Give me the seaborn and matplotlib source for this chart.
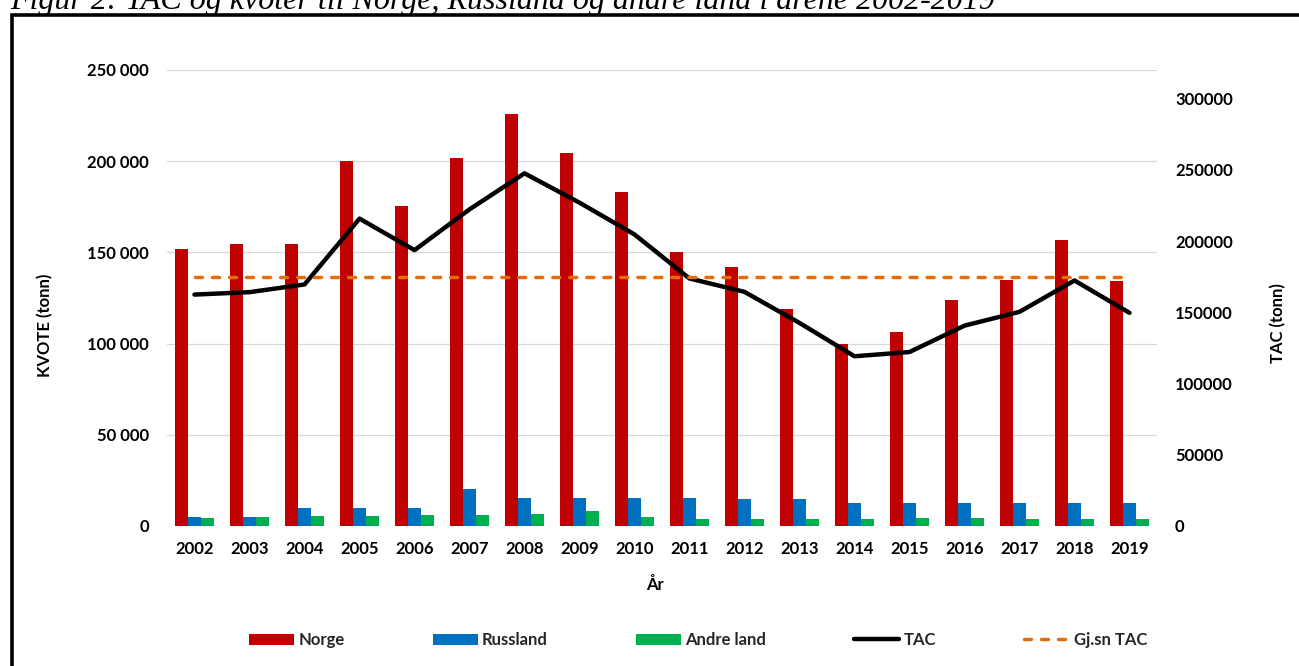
import numpy as np
import pandas as pd
import matplotlib
matplotlib.use("Agg")
import matplotlib.pyplot as plt
import seaborn as sns
from matplotlib.patches import Rectangle, Patch
from matplotlib.lines import Line2D
from matplotlib.ticker import FuncFormatter, MultipleLocator

# ---------------- data ----------------
years = ["2002", "2003", "2004", "2005", "2006", "2007", "2008", "2009", "2010",
         "2011", "2012", "2013", "2014", "2015", "2016", "2017", "2018", "2019"]
norge = [152000, 154500, 154500, 200000, 175500, 202000, 226000, 204500, 183000,
         150000, 142000, 119000, 100000, 106500, 124000, 135000, 157000, 134500]
russland = [5100, 5100, 10000, 10000, 10000, 20500, 15200, 15200, 15200,
            15200, 14600, 14600, 12400, 12400, 12400, 12400, 12400, 12400]
andre_land = [4600, 5100, 5500, 5500, 6000, 6000, 6600, 8200, 5100,
              3800, 3800, 3800, 3800, 4400, 4400, 3800, 3800, 3800]
tac = [162400, 164100, 169500, 215700, 193600, 222200, 247500, 226900, 204600,
       173700, 164300, 142500, 119100, 122100, 140600, 150300, 172300, 149600]
gjsn_tac_value = 174400
series_names = ["Norge", "Russland", "Andre land"]
line_names = ["TAC", "Gj.sn TAC"]
title = "Figur 2: TAC og kvoter til Norge, Russland og andre land i årene 2002-2019"

# ---------------- styling ----------------
sns.set_theme(style="white")
plt.rcParams["font.family"] = ["Lato", "DejaVu Sans"]
plt.rcParams["font.weight"] = "bold"
plt.rcParams["axes.labelweight"] = "bold"

bar_colors = ["#C00000", "#0070C0", "#00B050"]
tac_color = "#000000"
avg_color = "#E46C0A"
grid_color = "#D9D9D9"

W, H = 1299, 666
fig = plt.figure(figsize=(W / 100, H / 100), dpi=100)
fig.patch.set_facecolor("white")

L, R, T, B = 167, 1157, 70, 526
ax = fig.add_axes([L / W, (H - B) / H, (R - L) / W, (B - T) / H])

df = pd.DataFrame({
    "År": years * 3,
    "Land": [series_names[0]] * len(years) + [series_names[1]] * len(years) + [series_names[2]] * len(years),
    "Kvote": norge + russland + andre_land,
})

sns.barplot(data=df, x="År", y="Kvote", hue="Land", hue_order=series_names,
            palette=bar_colors, saturation=1, width=0.72, gap=0, linewidth=0,
            legend=False, ax=ax, errorbar=None)

ax.set_ylim(0, 250000)
ax.yaxis.set_major_locator(MultipleLocator(50000))
ax.yaxis.set_major_formatter(FuncFormatter(lambda v, p: f"{int(v):,}".replace(",", " ")))
ax.grid(axis="y", color=grid_color, linewidth=0.9)
ax.grid(axis="x", visible=False)
ax.set_axisbelow(True)
for s in ax.spines.values():
    s.set_visible(False)

ax2 = ax.twinx()
pos = np.arange(len(years))
sns.lineplot(x=pos, y=tac, ax=ax2, color=tac_color, linewidth=3.2)
sns.lineplot(x=pos, y=[gjsn_tac_value] * len(years), ax=ax2, color=avg_color,
             linewidth=2.5, linestyle=(0, (2.0, 2.9)), dash_capstyle="round")
ax2.set_ylim(0, 320000)
ax2.yaxis.set_major_locator(MultipleLocator(50000))
ax2.yaxis.set_major_formatter(FuncFormatter(lambda v, p: f"{int(v)}"))
ax2.grid(False)
for s in ax2.spines.values():
    s.set_visible(False)

ax.set_xlim(-0.5, len(years) - 0.5)

ax.tick_params(axis="x", length=0, labelsize=12, pad=10.5, colors="black")
ax.tick_params(axis="y", length=0, labelsize=12, pad=13, colors="black")
ax2.tick_params(axis="y", length=0, labelsize=12, pad=13, colors="black")

ax.set_xlabel("År", fontsize=12, fontweight="bold", color="black")
ax.set_ylabel("KVOTE (tonn)", fontsize=12, fontweight="bold", color="black")
ax2.set_ylabel("TAC (tonn)", fontsize=12, fontweight="bold", color="black")
ax.xaxis.set_label_coords((655 - L) / (R - L), (B - 585) / (B - T))
ax.xaxis.label.set_va("center")
ax.yaxis.set_label_coords((45 - L) / (R - L), (B - 325) / (B - T))
ax.yaxis.label.set_va("center")
ax2.yaxis.set_label_coords((1278 - L) / (R - L), (B - 323) / (B - T))
ax2.yaxis.label.set_va("center")

# legend
handles = [Patch(facecolor=c, edgecolor="none", label=n) for c, n in zip(bar_colors, series_names)]
handles.append(Line2D([0], [0], color=tac_color, linewidth=3.2, label=line_names[0]))
handles.append(Line2D([0], [0], color=avg_color, linewidth=2.5, linestyle=(0, (2.0, 2.9)),
                      dash_capstyle="round", label=line_names[1]))
fig.legend(handles=handles, loc="center", bbox_to_anchor=(698 / W, 1 - 640 / H), ncol=5,
           frameon=False, prop={"size": 12, "weight": "bold"}, handlelength=2.7,
           handleheight=0.66, handletextpad=0.25, columnspacing=5.3, borderaxespad=0)

# frame around the chart (partly outside the picture)
fig.add_artist(Rectangle((12 / W, -0.2), 2.0, (H - 15) / H + 0.2, transform=fig.transFigure,
                         fill=False, edgecolor="black", linewidth=2.6, clip_on=False))

# caption text cut at the top of the picture
t = fig.text(10 / W, 1 - 9 / H, title, fontfamily=["Liberation Serif", "DejaVu Serif"],
             fontstyle="italic", fontweight="normal", fontsize=20, va="baseline", ha="left",
             color="black")
fig.canvas.draw()
bb = t.get_window_extent(fig.canvas.get_renderer())
t.set_fontsize(20 * 987 / bb.width)

fig.savefig("out.png", dpi=100, facecolor="white")
